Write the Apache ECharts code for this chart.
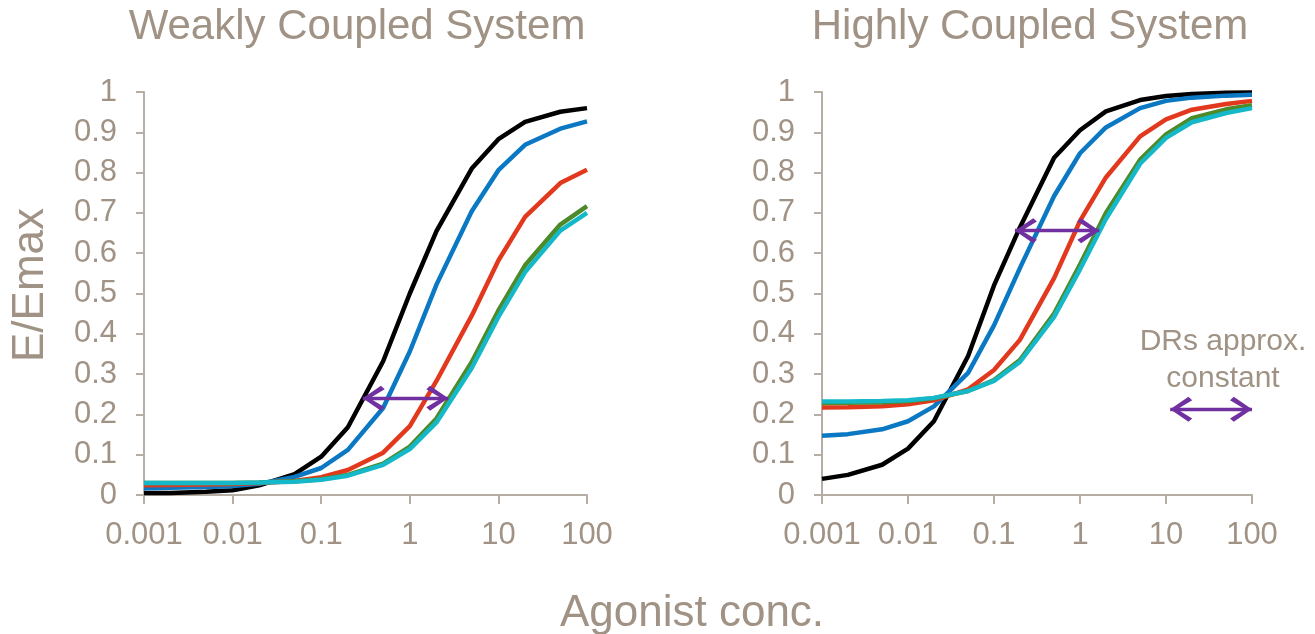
<!DOCTYPE html>
<html>
<head>
<meta charset="utf-8">
<script src="https://cdn.jsdelivr.net/npm/echarts@6/dist/echarts.min.js"></script>
<style>
  html, body { margin: 0; padding: 0; background: #fff; }
  #chart { width: 1315px; height: 634px; }
</style>
</head>
<body>
<div id="chart"></div>
<script>
// agonist concentrations (log axis)
var conc = [0.001, 0.002, 0.005, 0.01, 0.02, 0.05, 0.1, 0.2, 0.5, 1, 2, 5, 10, 20, 50, 100];
var xTickLabels = ['0.001', '0.01', '0.1', '1', '10', '100'];

// weakly coupled system
var weakBlack = [0.005, 0.005, 0.008, 0.012, 0.024, 0.052, 0.095, 0.168, 0.332, 0.50, 0.655, 0.81, 0.883, 0.926, 0.951, 0.96];
var weakBlue  = [0.017, 0.018, 0.02, 0.022, 0.028, 0.045, 0.067, 0.112, 0.216, 0.356, 0.522, 0.704, 0.806, 0.869, 0.909, 0.927];
var weakRed   = [0.024, 0.025, 0.026, 0.027, 0.03, 0.035, 0.044, 0.062, 0.105, 0.171, 0.283, 0.445, 0.582, 0.69, 0.774, 0.807];
var weakGreen = [0.03, 0.03, 0.03, 0.03, 0.031, 0.034, 0.039, 0.05, 0.078, 0.12, 0.19, 0.33, 0.458, 0.57, 0.671, 0.717];
var weakCyan  = [0.03, 0.03, 0.03, 0.03, 0.031, 0.033, 0.038, 0.048, 0.075, 0.114, 0.18, 0.315, 0.442, 0.553, 0.656, 0.70];

// highly coupled system
var highBlack = [0.04, 0.05, 0.075, 0.115, 0.183, 0.345, 0.52, 0.664, 0.837, 0.905, 0.952, 0.98, 0.99, 0.995, 0.998, 0.999];
var highBlue  = [0.147, 0.151, 0.163, 0.183, 0.22, 0.303, 0.421, 0.563, 0.742, 0.848, 0.912, 0.96, 0.978, 0.986, 0.991, 0.993];
var highRed   = [0.217, 0.218, 0.22, 0.225, 0.235, 0.262, 0.31, 0.385, 0.538, 0.68, 0.788, 0.89, 0.932, 0.956, 0.97, 0.978];
var highGreen = [0.228, 0.229, 0.23, 0.233, 0.24, 0.258, 0.285, 0.335, 0.45, 0.572, 0.70, 0.832, 0.895, 0.935, 0.957, 0.967];
var highCyan  = [0.232, 0.232, 0.233, 0.235, 0.241, 0.258, 0.283, 0.33, 0.442, 0.56, 0.685, 0.822, 0.886, 0.925, 0.948, 0.96];

// arrows: [x1, x2, y]
var weakShift = [0.294, 2.72, 0.24];
var highShift = [0.175, 1.68, 0.656];
var drArrow = [11.2, 100, 0.2125];

var colors = ['#000000', '#0a78c2', '#e2391e', '#4d8a2a', '#14b8c8'];
var txt = '#a09385';
var axisCol = '#b6ada4';
var font = '"Liberation Sans", Arial, sans-serif';
var chevron = 'path://M11,0 L22,17 L19,20.5 L11,6.5 L3,20.5 L0,17 Z';

function pairs(ys) {
  return conc.map(function (x, i) { return [x, ys[i]]; });
}

function xAxisFor(idx) {
  return {
    type: 'log', logBase: 10, min: 0.001, max: 100, gridIndex: idx,
    axisLine: { lineStyle: { color: axisCol, width: 2 } },
    axisTick: { show: true, length: 9, lineStyle: { color: axisCol, width: 2 } },
    splitLine: { show: false },
    minorTick: { show: false },
    axisLabel: {
      color: txt, fontSize: 31, fontFamily: font, margin: 25,
      formatter: function (v) { return xTickLabels[Math.round(Math.log10(v)) + 3]; }
    }
  };
}

function yAxisFor(idx) {
  return {
    type: 'value', min: 0, max: 1, interval: 0.1, gridIndex: idx,
    axisLine: { show: true, lineStyle: { color: axisCol, width: 2 } },
    axisTick: { show: true, length: 8, lineStyle: { color: axisCol, width: 2 } },
    splitLine: { show: false },
    axisLabel: {
      color: txt, fontSize: 31, fontFamily: font, margin: 27,
      formatter: function (v) { return String(+v.toFixed(1)); }
    }
  };
}

function curve(ys, c, idx) {
  return {
    type: 'line', data: pairs(ys), xAxisIndex: idx, yAxisIndex: idx,
    showSymbol: false, symbol: 'none', smooth: false, silent: true,
    lineStyle: { color: c, width: 4.5 }, z: 3
  };
}

function arrow(a, idx) {
  return {
    type: 'line', data: [], xAxisIndex: idx, yAxisIndex: idx, silent: true,
    markLine: {
      silent: true, animation: false,
      symbol: [chevron, chevron], symbolSize: [25, 22],
      symbolOffset: [[0, '50%'], [0, '50%']],
      label: { show: false },
      lineStyle: { color: '#7030a0', width: 3.4, type: 'solid' },
      data: [[{ coord: [a[0], a[2]] }, { coord: [a[1], a[2]] }]]
    },
    z: 5
  };
}

var weak = [weakBlack, weakBlue, weakRed, weakGreen, weakCyan];
var high = [highBlack, highBlue, highRed, highGreen, highCyan];
var series = [];
weak.forEach(function (ys, i) { series.push(curve(ys, colors[i], 0)); });
high.forEach(function (ys, i) { series.push(curve(ys, colors[i], 1)); });
series.push(arrow(weakShift, 0));
series.push(arrow(highShift, 1));
series.push(arrow(drArrow, 1));

var chart = echarts.init(document.getElementById('chart'), null, { renderer: 'canvas' });
chart.setOption({
  animation: false,
  backgroundColor: '#ffffff',
  grid: [
    { left: 144, right: 728, top: 92, bottom: 139 },
    { left: 822, right: 63, top: 92, bottom: 139 }
  ],
  xAxis: [xAxisFor(0), xAxisFor(1)],
  yAxis: [yAxisFor(0), yAxisFor(1)],
  graphic: [
    { type: 'text', x: 357, y: 27, style: { text: 'Weakly Coupled System', fill: txt, font: '42px ' + font, align: 'center', verticalAlign: 'middle' } },
    { type: 'text', x: 1030, y: 27, style: { text: 'Highly Coupled System', fill: txt, font: '42px ' + font, align: 'center', verticalAlign: 'middle' } },
    { type: 'text', x: 31, y: 285, rotation: Math.PI / 2, style: { text: 'E/Emax', fill: txt, font: '44px ' + font, align: 'center', verticalAlign: 'middle' } },
    { type: 'text', x: 692, y: 614, style: { text: 'Agonist conc.', fill: txt, font: '44px ' + font, align: 'center', verticalAlign: 'middle' } },
    { type: 'text', x: 1223, y: 360, style: { text: 'DRs approx.\nconstant', fill: txt, font: '30px ' + font, lineHeight: 37, align: 'center', verticalAlign: 'middle' } }
  ],
  series: series
});
</script>
</body>
</html>
